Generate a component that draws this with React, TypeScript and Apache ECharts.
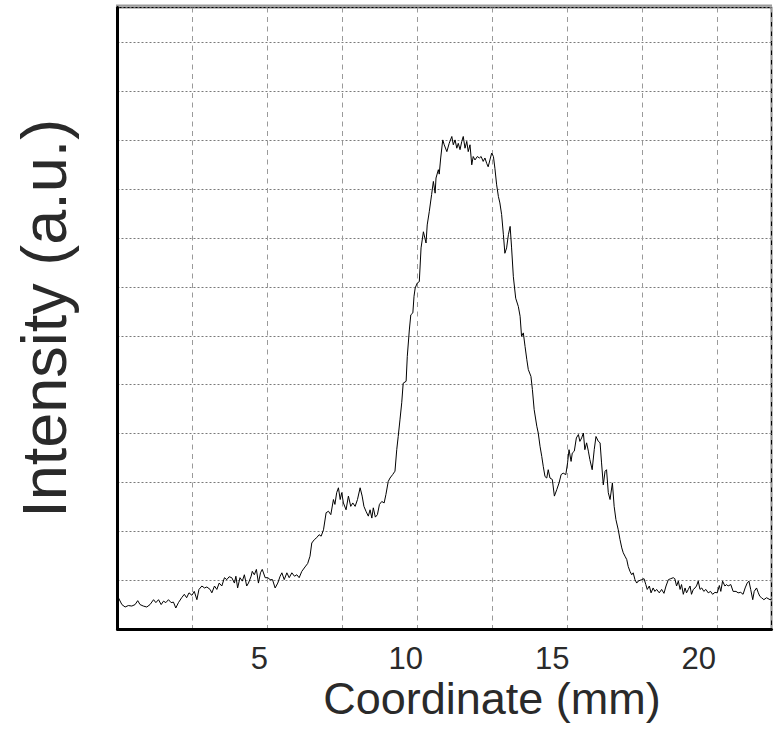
import React, { useEffect, useRef } from "react";
import * as echarts from "echarts";

// Coordinate (mm), Intensity (a.u.) pairs
const baselineLeft: number[][] = [
  [0.19,0.64],[0.31,0.50],[0.42,0.45],[0.53,0.48],[0.65,0.47],[0.76,0.50],[0.85,0.58],[0.93,0.50],[1.04,0.47],[1.16,0.45],
  [1.27,0.50],[1.39,0.60],[1.47,0.54],[1.56,0.60],[1.65,0.50],[1.73,0.57],[1.81,0.54],[1.90,0.60],[1.99,0.54],[2.07,0.55],
  [2.15,0.43],[2.24,0.54],[2.35,0.64],[2.44,0.71],[2.52,0.64],[2.60,0.74],[2.70,0.69],[2.78,0.77],[2.87,0.60],[2.94,0.81],
  [3.04,0.88],[3.13,0.84],[3.21,0.86],[3.32,0.81],[3.38,0.74],[3.47,0.88],[3.55,0.81],[3.63,0.94],[3.72,0.88],[3.81,1.05],
  [3.89,1.01],[3.97,1.07],[4.06,1.05],[4.15,0.94],[4.20,1.08],[4.26,0.84],[4.34,1.05],[4.42,0.98],[4.49,1.11],[4.57,0.88],
  [4.63,0.94],[4.72,1.08],[4.76,1.18],[4.83,1.11],[4.90,1.22],[4.97,0.94],[5.04,1.15],[5.10,1.22],[5.20,1.05],[5.29,1.05],
  [5.37,1.01],[5.45,1.01],[5.54,0.84],[5.63,0.94],[5.71,1.08],[5.77,1.15],[5.85,1.01],[5.94,1.15],[6.02,1.05],[6.11,1.15],
  [6.20,1.08],[6.28,1.11],[6.36,1.05],[6.45,1.18],[6.56,1.27],[6.65,1.34],[6.73,1.49],[6.79,1.76],[6.88,1.83],[6.96,1.87],
  [7.04,1.93],[7.11,1.90],
];

const shoulderAndRise: number[][] = [
  [7.19,2.03],[7.28,2.38],[7.36,2.41],[7.44,2.34],[7.53,2.65],[7.58,2.55],[7.64,2.79],[7.70,2.89],[7.76,2.65],[7.81,2.79],
  [7.87,2.58],[7.96,2.44],[8.04,2.72],[8.12,2.51],[8.19,2.58],[8.27,2.51],[8.35,2.65],[8.44,2.89],[8.51,2.72],[8.57,2.51],
  [8.64,2.41],[8.72,2.31],[8.78,2.44],[8.84,2.27],[8.89,2.48],[8.96,2.29],[9.03,2.34],[9.10,2.55],[9.18,2.61],[9.26,2.58],
  [9.32,2.75],[9.40,3.02],[9.46,3.09],[9.55,3.16],[9.63,3.23],[9.69,3.67],[9.74,3.94],[9.80,4.28],[9.86,4.63],[9.91,5.03],
  [10.01,5.07],[10.05,5.58],[10.12,6.12],[10.17,6.43],[10.24,6.47],[10.28,6.81],[10.32,6.98],[10.39,7.08],[10.46,7.11],
];

const mainPeak: number[][] = [
  [10.52,7.80],[10.60,8.13],[10.69,7.90],[10.73,8.27],[10.80,8.54],[10.88,8.89],[10.94,9.16],[11.00,8.92],[11.03,9.23],[11.11,9.40],
  [11.14,9.31],[11.19,9.64],[11.26,10.01],[11.31,9.91],[11.40,9.77],[11.48,9.94],[11.57,10.08],[11.62,9.91],[11.68,10.01],[11.74,9.84],
  [11.79,9.94],[11.85,9.81],[11.91,9.98],[11.96,10.08],[12.02,9.84],[12.08,9.98],[12.13,9.77],[12.19,9.91],[12.25,9.50],[12.30,9.67],
  [12.36,9.60],[12.44,9.67],[12.51,9.64],[12.57,9.67],[12.64,9.57],[12.70,9.64],[12.76,9.53],[12.81,9.46],[12.87,9.60],[12.93,9.74],
  [12.99,9.67],[13.04,9.43],[13.10,9.09],[13.16,8.85],[13.21,8.72],[13.27,8.48],[13.33,8.07],[13.38,7.69],[13.44,7.80],[13.50,8.07],
  [13.56,8.24],[13.61,7.80],
];

const fallAndSecondPeak: number[][] = [
  [13.67,7.21],[13.75,6.77],[13.84,6.60],[13.90,6.40],[13.95,5.99],[14.01,6.06],[14.07,5.78],[14.13,5.51],[14.18,5.31],[14.27,5.17],
  [14.32,4.90],[14.38,4.49],[14.47,4.15],[14.52,4.01],[14.58,3.74],[14.64,3.53],[14.69,3.33],[14.75,3.12],[14.81,3.09],[14.86,3.26],
  [14.92,3.09],[15.00,3.06],[15.07,2.72],[15.15,2.85],[15.23,2.99],[15.30,3.16],[15.37,3.19],[15.46,3.16],[15.52,3.40],[15.57,3.67],
  [15.64,3.43],[15.68,3.60],[15.75,3.64],[15.82,3.91],[15.89,3.98],[15.94,3.84],[16.00,3.91],[16.06,4.01],[16.11,3.67],[16.17,3.81],
  [16.23,3.64],[16.28,3.47],[16.36,3.26],[16.43,3.67],[16.49,3.94],[16.57,3.84],[16.63,3.81],[16.68,3.40],[16.74,2.95],[16.80,3.23],
  [16.85,3.26],[16.91,2.79],[16.97,2.65],[17.05,2.99],[17.11,2.51],
];

const tailRight: number[][] = [
  [17.17,2.24],[17.25,2.03],[17.31,1.83],[17.37,1.66],[17.42,1.56],[17.48,1.49],[17.54,1.42],[17.59,1.28],[17.65,1.18],[17.71,1.11],
  [17.76,1.15],[17.82,1.01],[17.88,0.94],[17.93,0.98],[18.05,1.01],[18.13,1.03],[18.19,0.91],[18.24,0.81],[18.31,0.88],[18.37,0.74],
  [18.44,0.84],[18.50,0.77],[18.56,0.81],[18.65,0.74],[18.73,0.81],[18.81,0.73],[18.88,0.88],[18.96,1.01],[19.04,1.03],[19.13,1.05],
  [19.18,1.03],[19.24,0.88],[19.30,0.98],[19.36,0.81],[19.41,0.91],[19.47,0.71],[19.53,0.84],[19.58,0.74],[19.64,0.81],[19.70,0.88],
  [19.75,0.71],[19.81,0.81],[19.87,0.84],[19.92,0.88],[19.98,0.98],[20.04,0.81],[20.10,0.84],[20.17,0.77],[20.24,0.81],[20.32,0.74],
  [20.40,0.77],[20.47,0.71],[20.55,0.75],[20.63,0.74],[20.70,0.89],[20.75,0.77],[20.81,0.98],[20.89,0.88],[20.95,0.91],[21.00,0.88],
  [21.09,0.91],[21.17,0.77],[21.27,0.77],[21.34,0.74],[21.43,0.75],[21.51,0.71],[21.58,0.84],[21.65,0.94],[21.71,0.98],[21.77,0.81],
  [21.84,0.60],[21.89,0.77],[21.97,0.84],[22.03,0.74],[22.08,0.67],[22.14,0.64],[22.22,0.60],[22.31,0.64],[22.43,0.60],[22.50,0.62],
];

const xTickLabels = [5, 10, 15, 20];
const xTitle = "Coordinate (mm)";
const yTitle = "Intensity (a.u.)";

const FONT = "'Liberation Sans', Arial, sans-serif";

export default function App() {
  const ref = useRef<HTMLDivElement>(null);

  useEffect(() => {
    if (!ref.current) return;
    const chart = echarts.init(ref.current, undefined, { renderer: "svg" });
    const trace = [
      ...baselineLeft,
      ...shoulderAndRise,
      ...mainPeak,
      ...fallAndSecondPeak,
      ...tailRight,
    ];
    chart.setOption({
      animation: false,
      backgroundColor: "#ffffff",
      grid: {
        left: 117.5,
        right: 3.5,
        top: 7.5,
        bottom: 113,
        show: true,
        borderColor: "#000",
        borderWidth: 1.5,
        backgroundColor: "transparent",
        containLabel: false,
      },
      xAxis: [
        {
          type: "value",
          min: 0.16,
          max: 22.48,
          position: "bottom",
          name: xTitle,
          nameLocation: "middle",
          nameGap: 50,
          nameMoveOverlap: false,
          nameTextStyle: {
            fontSize: 45,
            lineHeight: 38,
            color: "#2a2a2a",
            fontFamily: FONT,
            padding: [0, 0, 0, 95],
          },
          axisLine: { show: true, onZero: false, lineStyle: { color: "#000", width: 3 } },
          axisTick: { show: false },
          splitLine: { show: false },
          axisLabel: {
            show: true,
            margin: 15,
            fontSize: 31,
            lineHeight: 28,
            color: "#2a2a2a",
            fontFamily: FONT,
            showMinLabel: false,
            showMaxLabel: false,
            formatter: (v: number) =>
              xTickLabels.indexOf(Math.round(v * 1000) / 1000) >= 0 ? String(Math.round(v)) : "",
          },
        },
        {
          type: "value",
          min: 0,
          max: 8.726,
          interval: 1,
          position: "top",
          axisLine: { show: false },
          axisTick: { show: false },
          axisLabel: { show: false },
          splitLine: {
            show: true,
            lineStyle: { color: "#9a9a9a", width: 1, type: [5, 4.5] },
          },
        },
      ],
      yAxis: {
        type: "value",
        min: 0,
        max: 12.72,
        interval: 1,
        name: yTitle,
        nameLocation: "middle",
        nameRotate: 90,
        nameGap: 42,
        nameMoveOverlap: false,
        nameTextStyle: { fontSize: 63, color: "#2a2a2a", fontFamily: FONT },
        axisLine: { show: true, onZero: false, lineStyle: { color: "#000", width: 3 } },
        axisTick: { show: false },
        axisLabel: { show: false },
        splitLine: {
          show: true,
          lineStyle: { color: "#7a7a7a", width: 1, type: [2, 2] },
        },
      },
      graphic: [
        {
          type: "line",
          shape: { x1: 116, y1: 5.5, x2: 772, y2: 5.5 },
          style: { stroke: "#9c9c9c", lineWidth: 2 },
          silent: true,
        },
      ],
      series: [
        {
          type: "line",
          xAxisIndex: 0,
          yAxisIndex: 0,
          data: trace,
          showSymbol: false,
          symbol: "none",
          lineStyle: { color: "#000", width: 1 },
          clip: true,
        },
      ],
    });
    return () => chart.dispose();
  }, []);

  return (
    <div
      ref={ref}
      style={{
        position: "fixed",
        left: 0,
        top: 0,
        width: 775,
        height: 742,
        background: "#fff",
      }}
    />
  );
}
